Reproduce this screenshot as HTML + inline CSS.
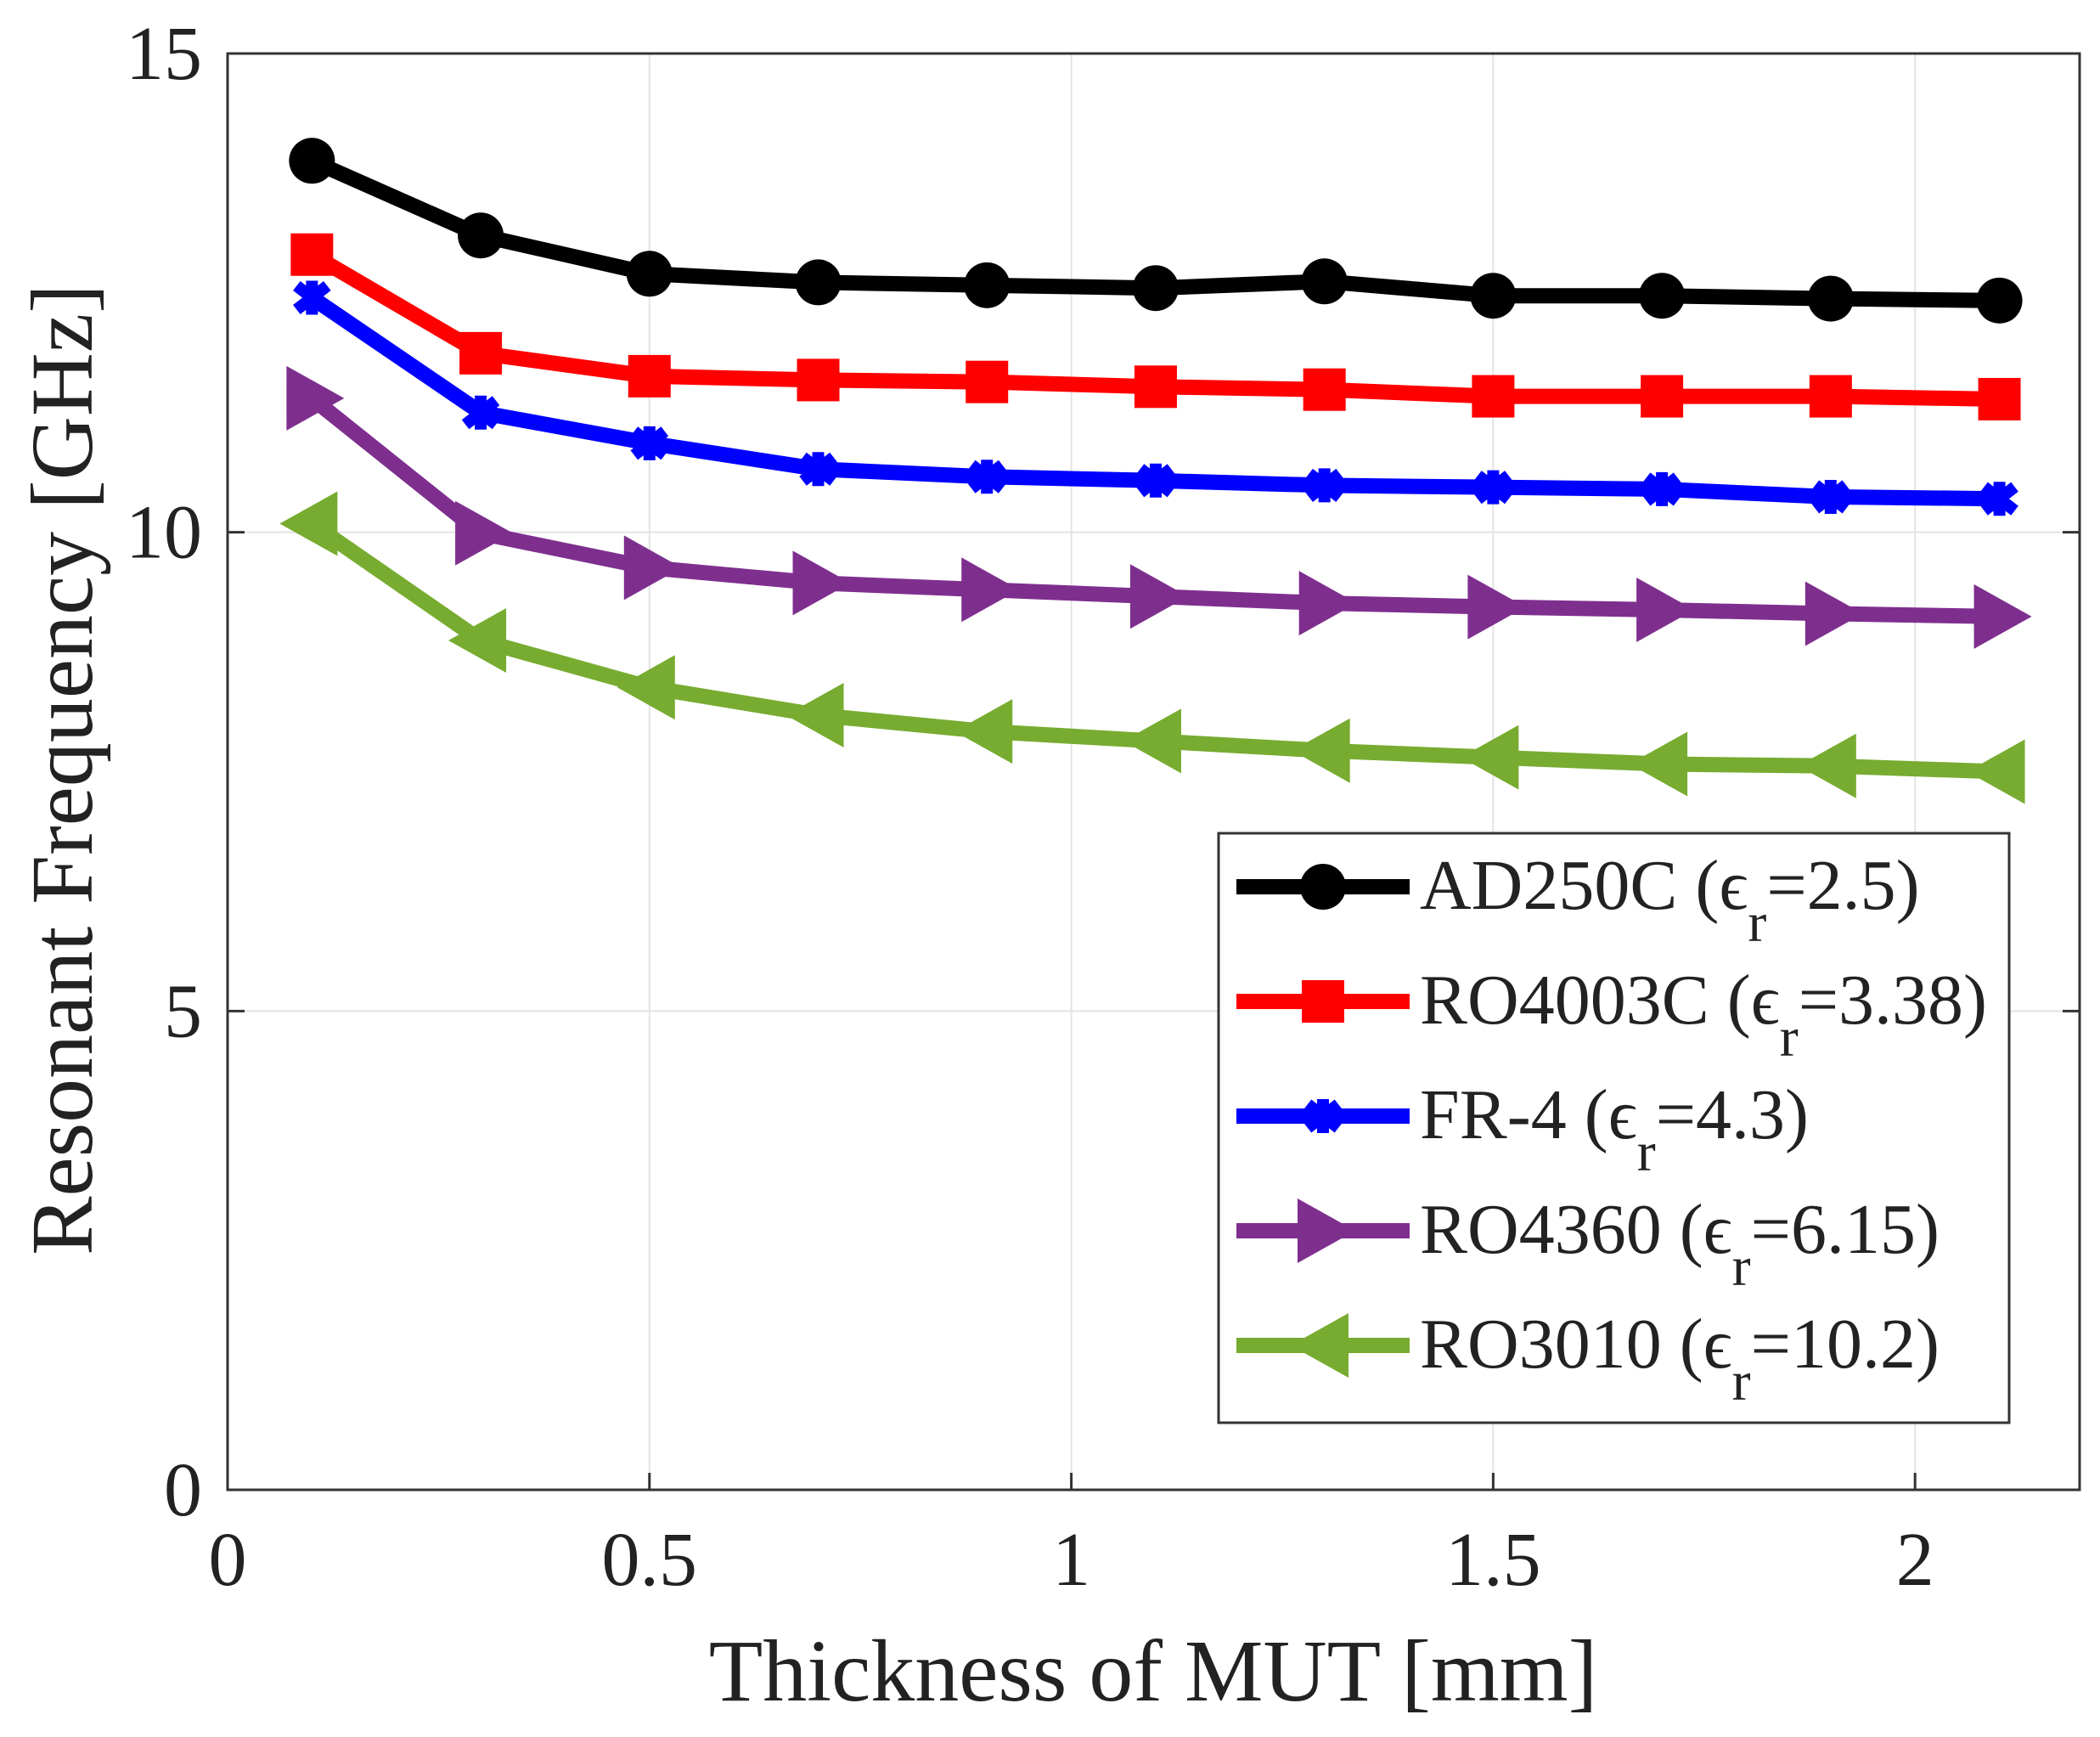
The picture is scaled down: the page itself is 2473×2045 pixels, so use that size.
<!DOCTYPE html>
<html><head><meta charset="utf-8"><style>
html,body{margin:0;padding:0;background:#fff;}
svg{display:block;font-family:"Liberation Serif",serif;}
</style></head><body>
<svg id="chart" width="2473" height="2045" viewBox="0 0 2473 2045" xmlns="http://www.w3.org/2000/svg">
<g id="grid"></g>
<g id="axes"></g>
<g id="series"></g>
<g id="legend"></g>
</svg>
<script>
const xValues = [0.1,0.3,0.5,0.7,0.9,1.1,1.3,1.5,1.7,1.9,2.1];
const ad250c = [13.88,13.10,12.70,12.61,12.58,12.55,12.62,12.47,12.47,12.44,12.42];
const ro4003c = [12.90,11.87,11.63,11.59,11.57,11.52,11.49,11.42,11.42,11.42,11.39];
const fr4 = [12.45,11.25,10.93,10.66,10.58,10.54,10.49,10.47,10.45,10.37,10.35];
const ro4360 = [11.40,9.99,9.63,9.47,9.40,9.33,9.26,9.22,9.19,9.15,9.12];
const ro3010 = [10.09,8.87,8.38,8.09,7.92,7.82,7.72,7.65,7.58,7.56,7.50];
const xTicks = [0,0.5,1,1.5,2];
const xTickLabels = ["0","0.5","1","1.5","2"];
const yTicks = [0,5,10,15];
const yTickLabels = ["0","5","10","15"];
const seriesNames = ["AD250C","RO4003C","FR-4","RO4360","RO3010"];
const seriesEps = ["2.5","3.38","4.3","6.15","10.2"];

const NS="http://www.w3.org/2000/svg";
const L=268,R=2449,T=63,B=1754;
const X=v=>L+v*993.6;
const Y=v=>B-(v/15)*(B-T);
function mk(tag,attrs,parent){const e=document.createElementNS(NS,tag);for(const k in attrs)e.setAttribute(k,attrs[k]);parent.appendChild(e);return e;}
const grid=document.getElementById('grid'),axes=document.getElementById('axes'),ser=document.getElementById('series'),leg=document.getElementById('legend');

xTicks.forEach((t,i)=>{
  if(t>0){const g=mk('line',{x1:X(t),x2:X(t),y1:T,y2:B,stroke:'#e3e3e3','stroke-width':2},grid);
  
  }
  const tk=mk('line',{x1:X(t),x2:X(t),y1:B,y2:B-20,stroke:'#333','stroke-width':3},axes);
  
  
  const tx=mk('text',{x:X(t),y:B+112,'font-size':90,'text-anchor':'middle',fill:'#222'},axes);
  tx.textContent=xTickLabels[i];
  
  
});
yTicks.forEach((t,i)=>{
  if(t>0&&t<15){const g=mk('line',{x1:L,x2:R,y1:Y(t),y2:Y(t),stroke:'#e3e3e3','stroke-width':2},grid);
  
  }
  const tk=mk('line',{x1:L,x2:L+20,y1:Y(t),y2:Y(t),stroke:'#333','stroke-width':3},axes);
  
  
  const tk2=mk('line',{x1:R,x2:R-20,y1:Y(t),y2:Y(t),stroke:'#333','stroke-width':3},axes);
  
  
  const tx=mk('text',{x:L-30,y:Y(t)+30,'font-size':90,'text-anchor':'end',fill:'#222'},axes);
  tx.textContent=yTickLabels[i];
  
  
});
const frame=mk('rect',{x:L,y:T,width:R-L,height:B-T,fill:'none',stroke:'#333','stroke-width':3},axes);


const xl=mk('text',{x:1358,y:2002,'font-size':104,'text-anchor':'middle',fill:'#222'},axes);
xl.textContent='Thickness of MUT [mm]';


const yl=mk('text',{x:0,y:0,'font-size':104,'text-anchor':'middle',fill:'#222',transform:'translate(108,906) rotate(-90)'},axes);
yl.textContent='Resonant Frequency [GHz]';



function marker(type,cx,cy,color,parent){
  let e;
  if(type==='circle'){e=mk('circle',{cx,cy,r:27,fill:color},parent);}
  else if(type==='square'){e=mk('rect',{x:cx-25,y:cy-25,width:50,height:50,fill:color},parent);}
  else if(type==='star'){e=mk('path',{d:`M${cx-18},${cy-14}L${cx+18},${cy+14}M${cx-18},${cy+14}L${cx+18},${cy-14}M${cx},${cy-20}L${cx},${cy+20}`,stroke:color,'stroke-width':14,fill:'none'},parent);}
  else if(type==='right'){e=mk('polygon',{points:`${cx-30},${cy-38} ${cx+38},${cy} ${cx-30},${cy+38}`,fill:color},parent);}
  else {e=mk('polygon',{points:`${cx+30},${cy-38} ${cx-38},${cy} ${cx+30},${cy+38}`,fill:color},parent);}
  return e;
}
const allSeries=[ad250c,ro4003c,fr4,ro4360,ro3010];
const colors=['#000000','#ff0000','#0000ff','#7e2f8e','#77ac30'];
const mtypes=['circle','square','star','right','left'];
const snames=['series-ad250c','series-ro4003c','series-fr4','series-ro4360','series-ro3010'];
allSeries.forEach((vals,s)=>{
  const g=mk('g',{},ser);
  
  
  const pts=vals.map((v,i)=>X(xValues[i])+','+Y(v)).join(' ');
  const pl=mk('polyline',{points:pts,fill:'none',stroke:colors[s],'stroke-width':18,'stroke-linejoin':'round'},g);
  
  
  vals.forEach((v,i)=>{
    const m=marker(mtypes[s],X(xValues[i]),Y(v),colors[s],g);
    
    
  });
});

const lb=mk('rect',{x:1435,y:981,width:931,height:694,fill:'#fff',stroke:'#333','stroke-width':3},leg);


seriesNames.forEach((n,s)=>{
  const cy=1044+s*135;
  const g=mk('g',{},leg);
  
  
  mk('line',{x1:1456,x2:1660,y1:cy,y2:cy,stroke:colors[s],'stroke-width':18},g);
  marker(mtypes[s],1558,cy,colors[s],g);
  const t=mk('text',{x:1672,y:cy+26,'font-size':84,fill:'#222'},g);
  t.textContent=n+' (\u03f5';
  const sub=mk('tspan',{dy:38,'font-size':66},t);
  sub.textContent='r';
  const rest=mk('tspan',{dy:-38},t);
  rest.textContent='='+seriesEps[s]+')';
});
</script>
</body></html>
